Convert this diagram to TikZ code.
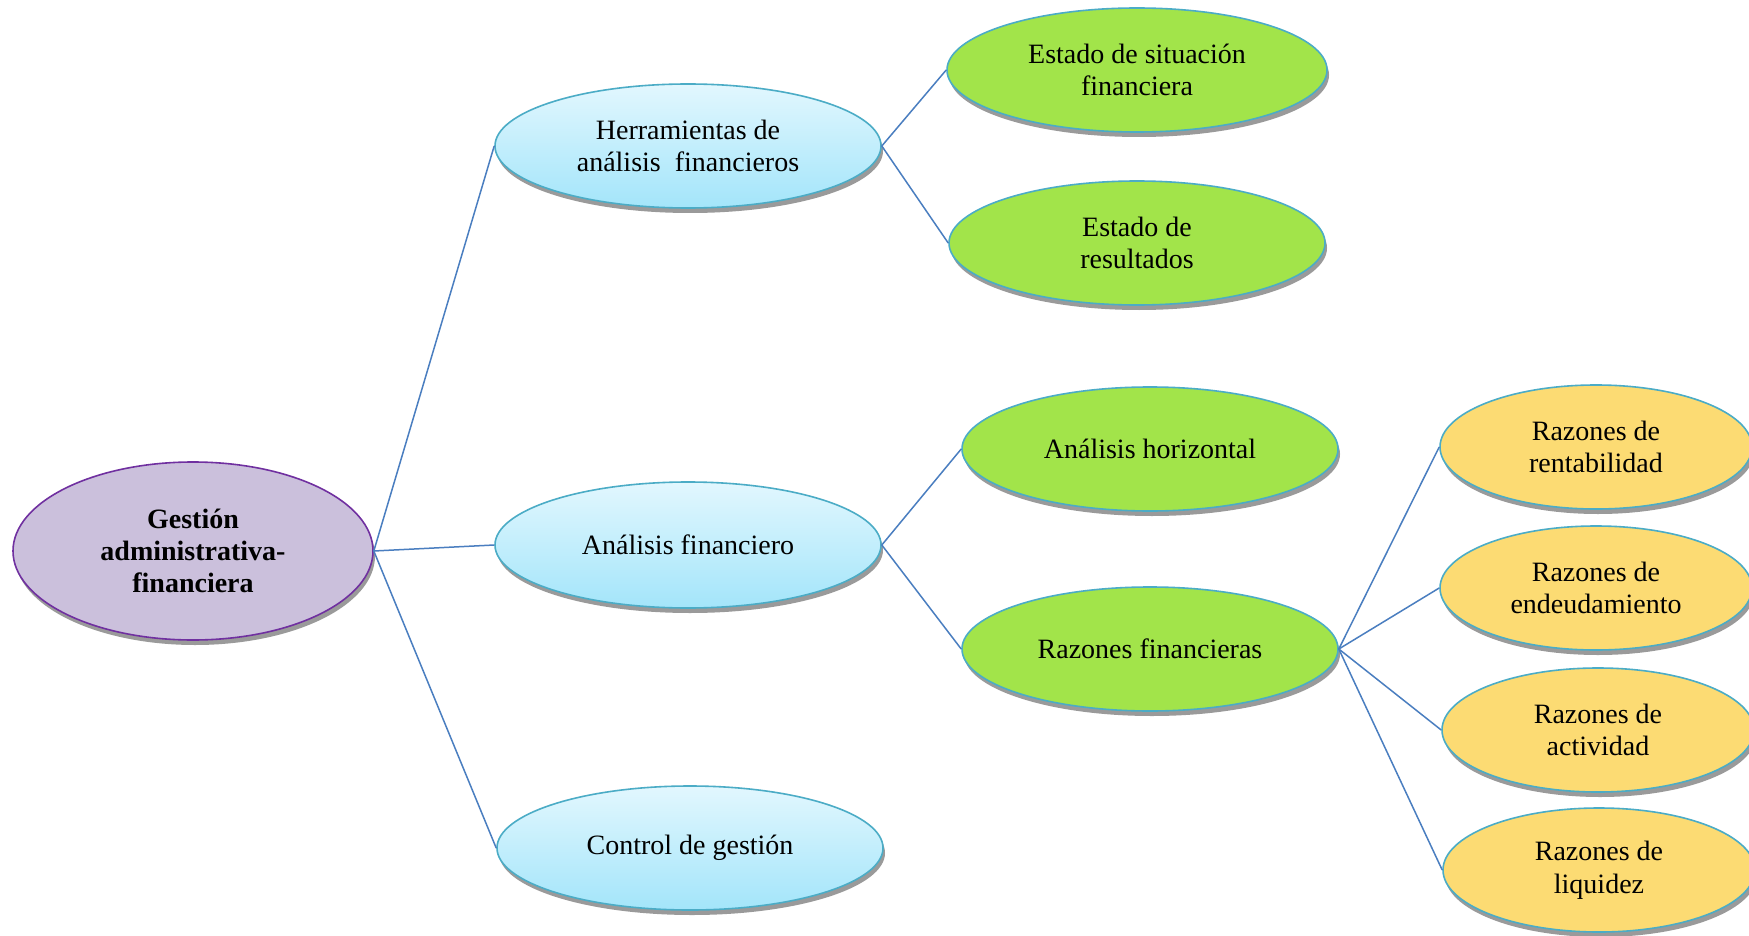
\documentclass[tikz,border=0pt]{standalone}
\usepackage{fontspec}
\setmainfont{Liberation Serif}
\usetikzlibrary{shapes.geometric,shadows}
\definecolor{rootfill}{HTML}{CBC0DC}
\definecolor{rootline}{HTML}{7030A0}
\definecolor{nodeline}{HTML}{4BACC6}
\definecolor{bluetop}{HTML}{E2F7FE}
\definecolor{bluebot}{HTML}{A3E5FA}
\definecolor{greenfill}{HTML}{A2E44A}
\definecolor{yellowfill}{HTML}{FCDB73}
\definecolor{linkcol}{HTML}{4A7EC0}
\definecolor{shadowcol}{HTML}{9A9A9A}
\tikzset{
  x=0.5pt, y=-0.5pt,
  oval/.style={ellipse, inner sep=0pt, align=center, font=\fontsize{14}{16.3}\selectfont,
    draw=nodeline, line width=0.8pt,
    drop shadow={shadow xshift=1pt, shadow yshift=-2.5pt, fill=shadowcol, opacity=1}},
  rootoval/.style={oval, draw=rootline, fill=rootfill, font=\fontsize{14}{16.2}\selectfont\bfseries},
  blueoval/.style={oval, top color=bluetop, bottom color=bluebot},
  greenoval/.style={oval, fill=greenfill},
  yellowoval/.style={oval, fill=yellowfill},
  link/.style={draw=linkcol, line width=0.75pt}
}
\begin{document}
\begin{tikzpicture}
\clip (0,0) rectangle (1749,936);
\fill[white] (0,0) rectangle (1749,936);
\node[rootoval, minimum width=180pt, minimum height=89pt] (root) at (193,551) {Gestión\\administrativa-\\financiera};
\node[blueoval, minimum width=193pt, minimum height=62pt] (herr) at (688,146) {Herramientas de\\análisis~ financieros};
\node[blueoval, minimum width=193pt, minimum height=63pt] (anf) at (688,545) {Análisis financiero};
\node[blueoval, minimum width=193pt, minimum height=62pt] (ctrl) at (690,848) {Control de gestión};
\node[greenoval, minimum width=190pt, minimum height=62pt] (esf) at (1137,70) {Estado de situación\\financiera};
\node[greenoval, minimum width=188pt, minimum height=62pt] (er) at (1137,243) {Estado de\\resultados};
\node[greenoval, minimum width=188pt, minimum height=62pt] (ah) at (1150,449) {Análisis horizontal};
\node[greenoval, minimum width=188pt, minimum height=62pt] (rf) at (1150,649) {Razones financieras};
\node[yellowoval, minimum width=156pt, minimum height=62pt] (rr) at (1596,447) {Razones de\\rentabilidad};
\node[yellowoval, minimum width=156pt, minimum height=62pt] (re) at (1596,588) {Razones de\\endeudamiento};
\node[yellowoval, minimum width=156pt, minimum height=62pt] (ra) at (1598,730) {Razones de\\actividad};
\node[yellowoval, minimum width=156pt, minimum height=62pt] (rl) at (1599,870) {Razones de\\liquidez};
\draw[link] (root.east) -- (herr.west);
\draw[link] (root.east) -- (anf.west);
\draw[link] (root.east) -- (ctrl.west);
\draw[link] (herr.east) -- (esf.west);
\draw[link] (herr.east) -- (er.west);
\draw[link] (anf.east) -- (ah.west);
\draw[link] (anf.east) -- (rf.west);
\draw[link] (rf.east) -- (rr.west);
\draw[link] (rf.east) -- (re.west);
\draw[link] (rf.east) -- (ra.west);
\draw[link] (rf.east) -- (rl.west);
\end{tikzpicture}
\end{document}
